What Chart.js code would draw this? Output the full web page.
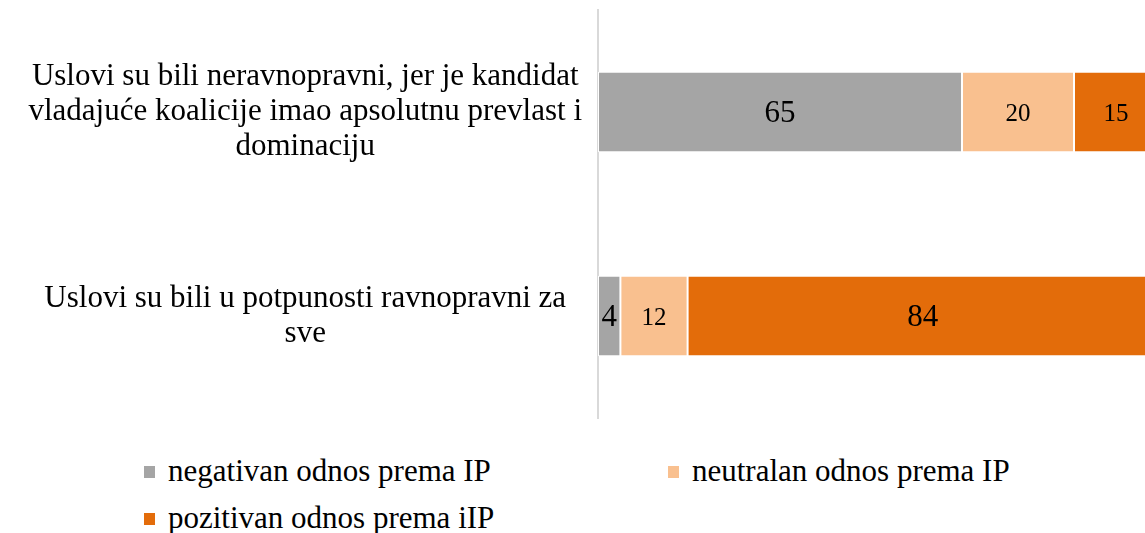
<!DOCTYPE html>
<html>
<head>
<meta charset="utf-8">
<script src="https://cdn.jsdelivr.net/npm/chart.js@4"></script>
<style>
  html, body { margin: 0; padding: 0; background: #fff; overflow: hidden; }
  #wrap { position: relative; width: 1170px; height: 430px; }
  #legend {
    position: absolute; left: 144px; top: 452px;
    display: grid; grid-template-columns: 524px auto; row-gap: 10px;
    font-family: "Liberation Serif", serif; font-size: 31px; color: #000;
  }
  .item { display: flex; align-items: center; height: 37px; }
  .box { width: 11px; height: 12px; margin-right: 13px; margin-top: 2px; }
</style>
</head>
<body>
<div id="wrap"><canvas id="chart"></canvas></div>
<div id="legend"></div>
<script>
// kategorije (redovi) i serije
const categories = [
    ["Uslovi su bili neravnopravni, jer je kandidat", "vladajuće koalicije imao apsolutnu prevlast i", "dominaciju"],
    ["Uslovi su bili u potpunosti ravnopravni za", "sve"],
];
const seriesNames = ["negativan odnos prema IP", "neutralan odnos prema IP", "pozitivan odnos prema iIP"];
const negativan = [65, 4];
const neutralan = [20, 12];
const pozitivan = [15, 84];
const colors = ["#A5A5A5", "#F9C08F", "#E36C0A"];

// velicina fonta za svaku vrijednost (dataset x red)
const labelSizes = [[31, 31], [25, 25], [25, 31]];

const valueLabels = {
    id: "valueLabels",
    afterDatasetsDraw(chart) {
        const ctx = chart.ctx;
        ctx.save();
        ctx.fillStyle = "#000";
        ctx.textAlign = "center";
        ctx.textBaseline = "middle";
        chart.data.datasets.forEach((ds, i) => {
            chart.getDatasetMeta(i).data.forEach((bar, j) => {
                const p = bar.getCenterPoint();
                ctx.font = labelSizes[i][j] + "px 'Liberation Serif', serif";
                ctx.fillText(ds.data[j], p.x, p.y + 2);
            });
        });
        ctx.restore();
    },
};

const series = [negativan, neutralan, pozitivan];
const ctx = document.getElementById("chart").getContext("2d");
const chart = new Chart(ctx, {
    type: "bar",
    data: {
        labels: categories,
        datasets: series.map((d, i) => ({
            label: seriesNames[i],
            data: d,
            backgroundColor: colors[i],
            borderColor: "#fff",
            borderWidth: 1,
            borderSkipped: false,
            categoryPercentage: 1,
            barPercentage: 0.395,
        })),
    },
    options: {
        indexAxis: "y",
        responsive: true,
        maintainAspectRatio: false,
        animation: false,
        layout: { padding: { top: 10, bottom: 12, left: 0, right: 12 } },
        plugins: {
            legend: { display: false },
            tooltip: { enabled: false },
        },
        scales: {
            x: {
                stacked: true,
                min: 0,
                max: 100,
                display: false,
            },
            y: {
                stacked: true,
                grid: { display: false, drawTicks: false },
                border: { color: "#D9D9D9", width: 2 },
                ticks: {
                    crossAlign: "center",
                    padding: 16,
                    color: "#000",
                    font: { family: "'Liberation Serif', serif", size: 31, lineHeight: 1.12 },
                },
                afterFit(scale) {
                    scale.width = 598;
                    scale.paddingTop = 0;
                    scale.paddingBottom = 0;
                },
            },
        },
    },
    plugins: [valueLabels],
});

// legenda
const legend = document.getElementById("legend");
seriesNames.forEach((name, i) => {
    const item = document.createElement("div");
    item.className = "item";
    item.innerHTML = '<span class="box" style="background:' + colors[i] + '"></span>' + name;
    legend.appendChild(item);
});
</script>
</body>
</html>
